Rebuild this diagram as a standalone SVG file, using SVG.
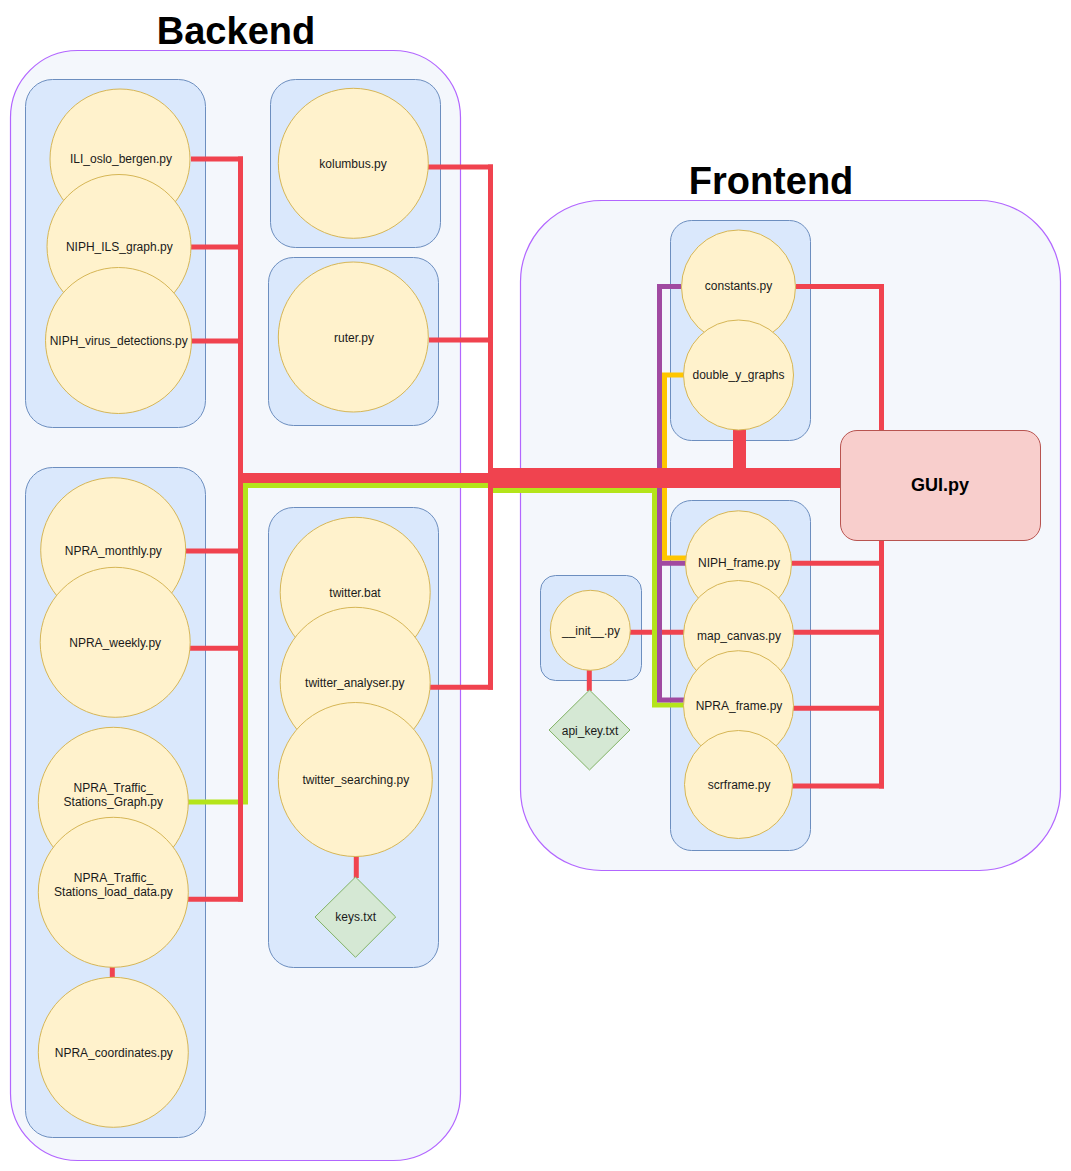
<svg xmlns="http://www.w3.org/2000/svg" width="1071" height="1171" viewBox="0 0 1071 1171">
<style>
.outer{fill:#f4f7fc;stroke:#b266ff;stroke-width:1.2}
.grp{fill:#dae8fc;stroke:#6c8ebf;stroke-width:1}
.c{fill:#fff2cc;stroke:#d6b656;stroke-width:1}
.d{fill:#d5e8d4;stroke:#82b366;stroke-width:1}
.gui{fill:#f8cecc;stroke:#b85450;stroke-width:1}
.t{font-family:"Liberation Sans",Arial,Helvetica,sans-serif;font-size:12px;fill:#1a1a1a;text-anchor:middle}
.title{font-family:"Liberation Sans",Arial,Helvetica,sans-serif;font-size:38px;font-weight:bold;fill:#000;text-anchor:middle}
.r{fill:none;stroke:#f0434f;stroke-width:5;stroke-linejoin:miter}
.p{fill:none;stroke:#a04aa1;stroke-width:5}
.y{fill:none;stroke:#ffc600;stroke-width:5}
.g{fill:none;stroke:#b4e41a;stroke-width:5}
</style>
<rect width="1071" height="1171" fill="#ffffff"/>

<g id="backend">
<rect class="outer" x="10.5" y="50.5" width="450" height="1110" rx="67" ry="67"/>
<text class="title" x="236" y="44">Backend</text>
</g>
<g id="frontend">
<rect class="outer" x="520.5" y="200.5" width="540" height="670" rx="81" ry="81"/>
<text class="title" x="771" y="194">Frontend</text>
</g>

<g id="group-niph">
<rect class="grp" x="25.5" y="79.5" width="180" height="348" rx="27" ry="27"/>
</g>
<g id="group-kolumbus">
<rect class="grp" x="270.5" y="79.5" width="170" height="168" rx="25" ry="25"/>
</g>
<g id="group-ruter">
<rect class="grp" x="268.5" y="257.5" width="170" height="168" rx="25" ry="25"/>
</g>
<g id="group-npra">
<rect class="grp" x="25.5" y="467.5" width="180" height="670" rx="27" ry="27"/>
</g>
<g id="group-twitter">
<rect class="grp" x="268.5" y="507.5" width="170" height="460" rx="25" ry="25"/>
</g>
<g id="group-constants">
<rect class="grp" x="670.5" y="220.5" width="140" height="220" rx="21" ry="21"/>
</g>
<g id="group-frames">
<rect class="grp" x="670.5" y="500.5" width="140" height="350" rx="21" ry="21"/>
</g>
<g id="group-init">
<rect class="grp" x="540.5" y="575.5" width="101" height="105" rx="15" ry="15"/>
</g>

<g id="connectors">
<!-- green (drawn under thick red) -->
<path class="g" d="M188,802 H245.5 V485.5 H490.5 V490.5 H654.5 V705 H684"/>
<!-- purple / yellow -->
<path class="p" d="M681,286.5 H659.5 V700 H684 M659.5,563.3 H686"/>
<path class="y" d="M684,375 H664.5 V558 H686"/>
<!-- backend left trunk -->
<path class="r" d="M240.5,156.5 V901.5"/>
<path class="r" d="M191,159 H243 M191,247 H243 M191,341 H243 M186,551 H243 M189,648.3 H243 M188,899.3 H243"/>
<!-- backend right trunk -->
<path class="r" d="M490.5,164.5 V689.8"/>
<path class="r" d="M428,167 H493 M429,340 H493 M430,687.3 H493"/>
<!-- thick buses -->
<path fill="none" stroke="#f0434f" stroke-width="10" d="M238,478 H493"/>
<path fill="none" stroke="#f0434f" stroke-width="20" d="M488,478 H841"/>
<path fill="none" stroke="#f0434f" stroke-width="13" d="M739.5,429 V470"/>
<!-- frontend right trunk -->
<path class="r" d="M796,286.5 H881.5 V431"/>
<path class="r" d="M881.5,539 V788.5"/>
<path class="r" d="M792,563.3 H884 M793,632.3 H884 M793,708.3 H884 M792,786 H884"/>
<!-- small connectors -->
<path class="r" d="M112.3,966 V978"/>
<path class="r" d="M356.3,856 V878"/>
<path class="r" d="M589.3,670 V691"/>
<path class="r" d="M630,632.3 H652 M662,632.3 H684"/>
</g>

<g id="ILI_oslo_bergen">
<circle class="c" cx="120" cy="159" r="70"/>
<text class="t" x="121" y="163.3">ILI_oslo_bergen.py</text>
</g>
<g id="NIPH_ILS_graph">
<circle class="c" cx="119" cy="246.5" r="72"/>
<text class="t" x="119.3" y="250.7">NIPH_ILS_graph.py</text>
</g>
<g id="NIPH_virus_detections">
<circle class="c" cx="118.5" cy="340.5" r="73"/>
<text class="t" x="118.7" y="344.7">NIPH_virus_detections.py</text>
</g>
<g id="kolumbus">
<circle class="c" cx="353.3" cy="163.3" r="75"/>
<text class="t" x="353" y="167.7">kolumbus.py</text>
</g>
<g id="ruter">
<circle class="c" cx="353.3" cy="337" r="75"/>
<text class="t" x="354" y="342">ruter.py</text>
</g>

<g id="NPRA_monthly">
<circle class="c" cx="113.2" cy="550.2" r="72.5"/>
<text class="t" x="113.3" y="555">NPRA_monthly.py</text>
</g>
<g id="NPRA_weekly">
<circle class="c" cx="115.2" cy="642.3" r="75"/>
<text class="t" x="115.2" y="646.7">NPRA_weekly.py</text>
</g>
<g id="NPRA_Traffic_Stations_Graph">
<circle class="c" cx="113.3" cy="802.3" r="75"/>
<text class="t" x="113.3" y="792.3">NPRA_Traffic_</text>
<text class="t" x="113.3" y="806.3">Stations_Graph.py</text>
</g>
<g id="NPRA_Traffic_Stations_load_data">
<circle class="c" cx="113.3" cy="892.3" r="75"/>
<text class="t" x="113.5" y="882.3">NPRA_Traffic_</text>
<text class="t" x="113.5" y="896.3">Stations_load_data.py</text>
</g>
<g id="NPRA_coordinates">
<circle class="c" cx="113.3" cy="1052.3" r="75"/>
<text class="t" x="113.8" y="1056.7">NPRA_coordinates.py</text>
</g>

<g id="twitter_bat">
<circle class="c" cx="355.2" cy="592.3" r="75"/>
<text class="t" x="355" y="596.7">twitter.bat</text>
</g>
<g id="twitter_analyser">
<circle class="c" cx="355.2" cy="682.3" r="75"/>
<text class="t" x="354.8" y="686.7">twitter_analyser.py</text>
</g>
<g id="twitter_searching">
<circle class="c" cx="355.3" cy="779.5" r="77"/>
<text class="t" x="355.8" y="784">twitter_searching.py</text>
</g>
<g id="keys_txt">
<polygon class="d" points="355.5,877 395.7,917 355.5,957.3 315,917"/>
<text class="t" x="355.7" y="921.3">keys.txt</text>
</g>

<g id="constants">
<circle class="c" cx="738.5" cy="287" r="57"/>
<text class="t" x="738.5" y="290">constants.py</text>
</g>
<g id="double_y_graphs">
<circle class="c" cx="738.5" cy="375" r="55"/>
<text class="t" x="738.5" y="379.3">double_y_graphs</text>
</g>

<g id="NIPH_frame">
<circle class="c" cx="738.5" cy="563.8" r="53"/>
<text class="t" x="739" y="567.3">NIPH_frame.py</text>
</g>
<g id="map_canvas">
<circle class="c" cx="738.5" cy="635.5" r="55"/>
<text class="t" x="739" y="639.7">map_canvas.py</text>
</g>
<g id="NPRA_frame">
<circle class="c" cx="738.5" cy="705.7" r="55"/>
<text class="t" x="739" y="710">NPRA_frame.py</text>
</g>
<g id="scrframe">
<circle class="c" cx="738.5" cy="784.5" r="54"/>
<text class="t" x="739.2" y="789">scrframe.py</text>
</g>

<g id="init_py">
<circle class="c" cx="590.3" cy="630.3" r="40"/>
<text class="t" x="591" y="635">__init__.py</text>
</g>
<g id="api_key_txt">
<polygon class="d" points="589.5,690 630,730 589.5,770 549,730"/>
<text class="t" x="590" y="734.7">api_key.txt</text>
</g>

<g id="GUI">
<rect class="gui" x="840.5" y="430.5" width="200" height="110" rx="16.5" ry="16.5"/>
<text x="940" y="491" text-anchor="middle" font-family="Liberation Sans, Arial, Helvetica, sans-serif" font-size="18" font-weight="bold" fill="#000">GUI.py</text>
</g>
</svg>
